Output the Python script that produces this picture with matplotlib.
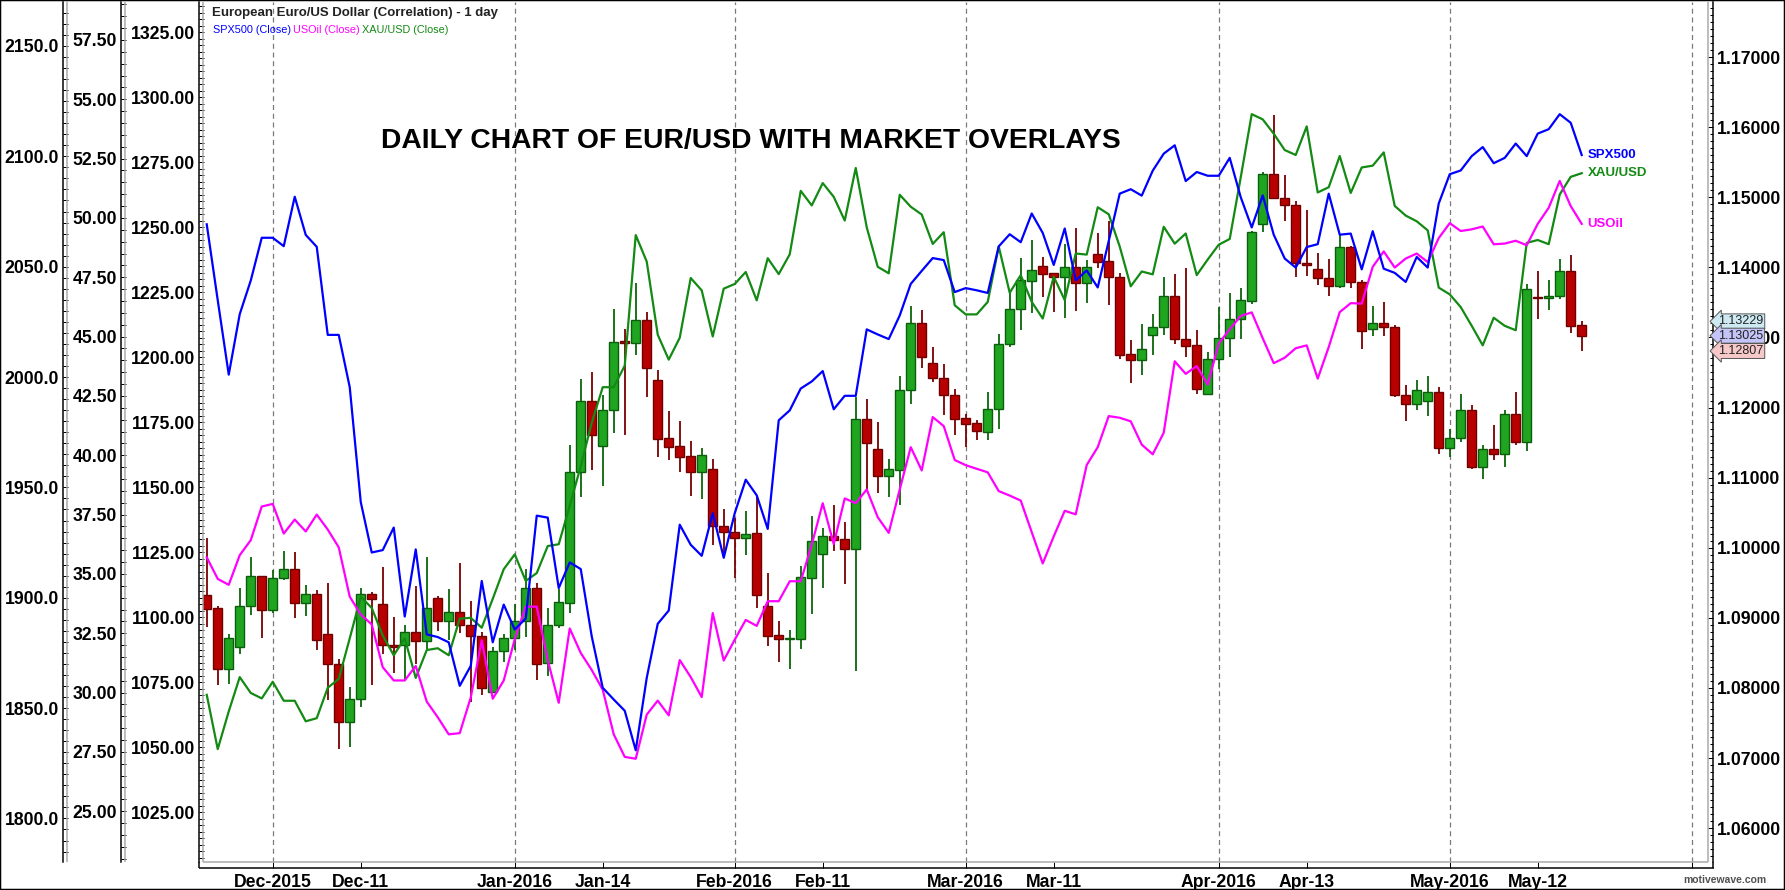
import numpy as np
import pandas as pd
import matplotlib
matplotlib.use("Agg")
import matplotlib.pyplot as plt
from matplotlib.lines import Line2D
from matplotlib.patches import Rectangle
import matplotlib.ticker as mticker
import matplotlib.transforms as mtransforms

plt.rcParams['font.family'] = ['Liberation Sans', 'DejaVu Sans']
plt.rcParams['font.weight'] = 'bold'
plt.rcParams['xtick.labelsize'] = 12.7
plt.rcParams['ytick.labelsize'] = 12.7

# ---------------- data ----------------
start_date = '2015-11-23'
end_date = '2016-06-30'
holidays = ['2015-12-25', '2016-01-01']
n_bars = 126

eur_open = [1.09327, 1.09141, 1.08272, 1.08577, 1.09169, 1.09592,
            1.09118, 1.09564, 1.09694, 1.09214, 1.09338, 1.08763, 1.08340, 1.07510, 1.07843, 1.09338,
            1.09203, 1.08610, 1.08610, 1.08791, 1.08667, 1.09282, 1.08949, 1.09090, 1.08904, 1.08746,
            1.07945, 1.08520, 1.08718, 1.08949, 1.09423, 1.08351, 1.08893, 1.09214, 1.11076, 1.12091,
            1.11454, 1.11961, 1.12943, 1.12926, 1.13247, 1.12390, 1.11566, 1.11454, 1.11310, 1.11084,
            1.11129, 1.10306, 1.10221, 1.10142, 1.10210, 1.09166, 1.08754, 1.08692, 1.08703, 1.09572,
            1.09916, 1.10165, 1.10125, 1.09984, 1.11834, 1.11405, 1.11028, 1.11112, 1.12257, 1.13199,
            1.12642, 1.12428, 1.12183, 1.11852, 1.11776, 1.11648, 1.11974, 1.12901, 1.13401, 1.13808,
            1.14012, 1.13915, 1.13869, 1.14002, 1.13783, 1.14186, 1.14084, 1.13869, 1.12759, 1.12682,
            1.13039, 1.13146, 1.13584, 1.12973, 1.12886, 1.12198, 1.12692, 1.12998, 1.13258, 1.13523,
            1.14613, 1.15327, 1.14990, 1.14883, 1.14058, 1.13971, 1.13844, 1.13727, 1.14287, 1.13788,
            1.13126, 1.13212, 1.13146, 1.12173, 1.12045, 1.12096, 1.12219, 1.11419, 1.11561, 1.11964,
            1.11154, 1.11409, 1.11332, 1.11908, 1.11510, 1.13574, 1.13559, 1.13584, 1.13946, 1.13176]
eur_high = [1.10145, 1.09175, 1.08763, 1.09423, 1.09874, 1.09592,
            1.09682, 1.09947, 1.09936, 1.09468, 1.09395, 1.09496, 1.08407, 1.08018, 1.09423, 1.09366,
            1.09722, 1.09017, 1.08904, 1.09451, 1.09874, 1.09310, 1.09411, 1.09778, 1.09242, 1.08802,
            1.08577, 1.08763, 1.09197, 1.09694, 1.09496, 1.09146, 1.09411, 1.11471, 1.12401, 1.12503,
            1.12176, 1.13405, 1.13123, 1.13783, 1.13360, 1.12531, 1.11950, 1.11803, 1.11524, 1.11423,
            1.11265, 1.10548, 1.10418, 1.10520, 1.10717, 1.09646, 1.08952, 1.08828, 1.09741, 1.10452,
            1.10283, 1.10605, 1.10362, 1.12156, 1.12116, 1.11789, 1.11265, 1.12449, 1.13453, 1.13385,
            1.12861, 1.12616, 1.12260, 1.11903, 1.11827, 1.12219, 1.13049, 1.13635, 1.14135, 1.14389,
            1.14145, 1.13915, 1.14333, 1.14562, 1.14104, 1.14491, 1.14654, 1.13926, 1.12963, 1.13187,
            1.13329, 1.13859, 1.13905, 1.13997, 1.13105, 1.12799, 1.13436, 1.13635, 1.13706, 1.14520,
            1.15367, 1.16172, 1.15316, 1.14950, 1.14812, 1.14211, 1.14119, 1.14466, 1.14302, 1.13813,
            1.13447, 1.13503, 1.13182, 1.12321, 1.12392, 1.12453, 1.12290, 1.11699, 1.12198, 1.12035,
            1.11470, 1.11750, 1.11969, 1.12224, 1.13762, 1.13946, 1.13818, 1.14119, 1.14175, 1.13229]
eur_low = [1.08876, 1.08046, 1.08058, 1.08481, 1.09045, 1.08718,
           1.09073, 1.09541, 1.09000, 1.09028, 1.08537, 1.07832, 1.07127, 1.07155, 1.07730, 1.08046,
           1.08481, 1.08216, 1.08114, 1.08340, 1.08554, 1.08819, 1.08678, 1.08780, 1.07804, 1.07900,
           1.07934, 1.08368, 1.08537, 1.08723, 1.08114, 1.08170, 1.08859, 1.09073, 1.10720, 1.11104,
           1.10878, 1.11640, 1.11611, 1.12751, 1.12147, 1.11301, 1.11256, 1.11076, 1.10735, 1.10689,
           1.10040, 1.09899, 1.09572, 1.09899, 1.09138, 1.08602, 1.08365, 1.08275, 1.08557, 1.09053,
           1.09420, 1.09956, 1.09477, 1.08236, 1.10830, 1.10785, 1.10729, 1.10605, 1.12054, 1.12562,
           1.12361, 1.11893, 1.11607, 1.11444, 1.11536, 1.11536, 1.11699, 1.12861, 1.13110, 1.13350,
           1.13579, 1.13360, 1.13279, 1.13375, 1.13493, 1.13992, 1.13462, 1.12698, 1.12351, 1.12463,
           1.12748, 1.13034, 1.12912, 1.12718, 1.12188, 1.12188, 1.12555, 1.12723, 1.12973, 1.13482,
           1.14501, 1.14970, 1.14664, 1.13869, 1.13880, 1.13752, 1.13594, 1.13701, 1.13711, 1.12840,
           1.13024, 1.13024, 1.12147, 1.11811, 1.11969, 1.11882, 1.11342, 1.11296, 1.11510, 1.11118,
           1.10986, 1.11245, 1.11154, 1.11470, 1.11383, 1.13268, 1.13396, 1.13548, 1.13064, 1.12807]
eur_close = [1.09129, 1.08272, 1.08706, 1.09169, 1.09592, 1.09118,
             1.09564, 1.09694, 1.09214, 1.09338, 1.08678, 1.08340, 1.07510, 1.07843, 1.09338, 1.09270,
             1.08610, 1.08588, 1.08791, 1.08667, 1.09141, 1.08949, 1.09090, 1.08904, 1.08746, 1.08001,
             1.08520, 1.08718, 1.08949, 1.09423, 1.08340, 1.08893, 1.09225, 1.11076, 1.12091, 1.11611,
             1.11961, 1.12937, 1.12926, 1.13247, 1.12559, 1.11555, 1.11442, 1.11301, 1.11084, 1.11321,
             1.10306, 1.10221, 1.10142, 1.10198, 1.09324, 1.08743, 1.08703, 1.08715, 1.09578, 1.10097,
             1.10165, 1.10114, 1.09984, 1.11834, 1.11490, 1.11028, 1.11124, 1.12257, 1.13199, 1.12720,
             1.12428, 1.12183, 1.11842, 1.11771, 1.11669, 1.11974, 1.12901, 1.13401, 1.13819, 1.13956,
             1.13910, 1.13864, 1.14002, 1.13783, 1.14002, 1.14078, 1.13869, 1.12754, 1.12682, 1.12830,
             1.13146, 1.13584, 1.12973, 1.12881, 1.12259, 1.12692, 1.12998, 1.13258, 1.13528, 1.14511,
             1.15327, 1.14985, 1.14883, 1.14058, 1.14038, 1.13844, 1.13727, 1.14287, 1.13788, 1.13095,
             1.13212, 1.13146, 1.12173, 1.12045, 1.12249, 1.12219, 1.11419, 1.11566, 1.11964, 1.11154,
             1.11409, 1.11332, 1.11908, 1.11510, 1.13691, 1.13559, 1.13589, 1.13946, 1.13166, 1.13025]

spx_close = [2069.2, 2034.8, 2001.1, 2028.5, 2043.7, 2063.1,
             2063.1, 2059.3, 2081.7, 2064.4, 2059.0, 2019.1, 2019.1, 1995.4, 1943.4, 1920.5,
             1921.6, 1931.8, 1891.5, 1921.9, 1883.4, 1882.2, 1879.8, 1860.1, 1869.1, 1907.6,
             1879.8, 1896.9, 1885.6, 1890.6, 1937.2, 1936.3, 1904.4, 1916.0, 1913.0, 1882.5,
             1859.2, 1853.9, 1848.8, 1830.9, 1863.7, 1888.2, 1894.2, 1933.1, 1924.0, 1919.0,
             1938.3, 1918.1, 1938.3, 1953.5, 1946.4, 1931.2, 1980.4, 1984.9, 1994.8, 1998.0,
             2002.7, 1985.4, 1991.5, 1991.5, 2021.6, 2019.3, 2017.2, 2027.9, 2042.2, 2048.1,
             2053.9, 2053.0, 2038.5, 2040.3, 2039.3, 2038.1, 2059.2, 2064.7, 2061.1, 2074.1,
             2065.3, 2050.8, 2067.3, 2043.8, 2048.3, 2040.6, 2061.6, 2083.1, 2085.1, 2082.2,
             2093.5, 2101.2, 2105.0, 2088.8, 2092.9, 2091.2, 2091.2, 2099.3, 2081.5, 2067.8,
             2082.3, 2064.5, 2053.7, 2049.6, 2058.9, 2060.2, 2083.1, 2064.5, 2065.0, 2048.8,
             2066.1, 2049.1, 2047.2, 2043.1, 2054.4, 2049.6, 2078.6, 2091.9, 2093.6, 2100.1,
             2104.2, 2096.9, 2099.3, 2105.8, 2100.1, 2110.3, 2112.3, 2119.1, 2115.2, 2100.6]
usoil_close = [35.70, 34.79, 34.54, 35.79, 36.42, 37.84,
               37.95, 36.70, 37.29, 36.79, 37.50, 36.87, 36.12, 34.04, 33.29, 32.87,
               31.07, 30.51, 30.51, 31.12, 29.62, 28.96, 28.24, 28.29, 29.79, 32.20,
               29.74, 30.51, 32.25, 33.62, 33.62, 31.37, 29.57, 32.70, 31.67, 30.95,
               30.12, 28.24, 27.29, 27.21, 29.07, 29.66, 29.04, 31.37, 30.65, 29.81,
               33.35, 31.35, 32.23, 33.06, 32.81, 33.85, 33.85, 34.69, 34.69, 36.23,
               37.98, 36.26, 38.18, 37.98, 38.56, 37.39, 36.73, 38.56, 40.34, 39.36,
               41.61, 41.23, 39.80, 39.58, 39.43, 39.28, 38.49, 38.30, 38.09, 36.76,
               35.44, 36.58, 37.66, 37.51, 39.59, 40.34, 41.65, 41.58, 41.43, 40.45,
               40.04, 40.95, 43.96, 43.43, 43.76, 42.98, 44.71, 45.31, 45.87, 46.02,
               44.93, 43.88, 44.11, 44.51, 44.63, 43.23, 44.56, 46.03, 46.41, 46.39,
               47.94, 48.59, 47.91, 48.29, 48.50, 48.14, 49.15, 49.78, 49.45, 49.52,
               49.64, 48.89, 48.92, 49.04, 48.85, 49.75, 50.43, 51.56, 50.50, 49.75]
xau_close = [1070.1, 1049.2, 1063.7, 1076.9, 1070.8, 1068.7,
             1075.1, 1067.8, 1067.8, 1059.9, 1061.1, 1072.8, 1076.2, 1091.8, 1107.8, 1103.5,
             1092.9, 1085.3, 1091.8, 1076.6, 1087.3, 1088.0, 1085.3, 1099.4, 1099.7, 1095.9,
             1107.0, 1118.4, 1124.1, 1113.9, 1116.9, 1127.3, 1128.0, 1142.8, 1158.0, 1174.7,
             1188.4, 1188.4, 1196.7, 1246.9, 1236.7, 1208.6, 1199.0, 1207.4, 1230.4, 1225.6,
             1207.9, 1226.3, 1228.1, 1232.7, 1221.8, 1238.0, 1231.9, 1239.5, 1263.9, 1258.3,
             1266.9, 1261.6, 1252.5, 1272.7, 1249.9, 1234.7, 1232.2, 1262.4, 1257.8, 1254.8,
             1243.5, 1248.0, 1219.9, 1216.4, 1216.4, 1221.2, 1242.5, 1224.7, 1231.5, 1221.2,
             1214.8, 1230.9, 1221.9, 1239.8, 1239.4, 1257.6, 1254.9, 1242.5, 1227.2, 1232.9,
             1231.8, 1250.1, 1243.6, 1247.5, 1231.5, 1237.5, 1243.2, 1245.4, 1269.1, 1293.4,
             1291.4, 1285.9, 1279.6, 1277.7, 1288.7, 1263.3, 1265.3, 1277.3, 1263.1, 1272.9,
             1273.6, 1278.7, 1258.1, 1254.4, 1252.2, 1248.7, 1226.7, 1224.1, 1219.2, 1212.0,
             1204.5, 1215.1, 1212.0, 1210.3, 1243.9, 1245.0, 1243.4, 1262.5, 1269.3, 1270.7]

month_dates = ['2015-12-01', '2016-01-04', '2016-02-01', '2016-03-01', '2016-04-01', '2016-05-02', '2016-06-01']
month_labels = ['Dec-2015', 'Jan-2016', 'Feb-2016', 'Mar-2016', 'Apr-2016', 'May-2016', '']
mid_dates = ['2015-12-11', '2016-01-14', '2016-02-11', '2016-03-11', '2016-04-13', '2016-05-12']
mid_labels = ['Dec-11', 'Jan-14', 'Feb-11', 'Mar-11', 'Apr-13', 'May-12']

series_names = ['SPX500', 'USOil', 'XAU/USD']
series_colors = ['#0000ff', '#ff00ff', '#138a13']
price_tags = [1.13229, 1.13025, 1.12807]
price_tag_colors = ['#cdeaf2', '#c4c4f8', '#f7c8c8']

# ---------------- calendar ----------------
days = pd.bdate_range(start_date, end_date)
days = days[~days.isin(pd.to_datetime(holidays))]
pos_of = {d.strftime('%Y-%m-%d'): i for i, d in enumerate(days)}
x = np.arange(n_bars)

# ---------------- figure / layout ----------------
W, H = 1785, 890
fig = plt.figure(figsize=(W / 100, H / 100), dpi=100)
fig.patch.set_facecolor('white')


def fx(p):
    return p / W


def fy(p):
    return 1 - p / H


L, R, T, B = 203, 1708, 2, 862
ax = fig.add_axes([fx(L), fy(B), fx(R) - fx(L), fy(T) - fy(B)])
ax_gold = ax.twinx()
ax_oil = ax.twinx()
ax_spx = ax.twinx()

ax.set_xlim(-0.34, 136.48)
ax.set_ylim(1.05517, 1.17785)

PT = 72 / 100.0  # points per pixel
axw = R - L

# main (EUR) axis on the right
ax.yaxis.tick_right()
for s in ['left', 'top', 'bottom']:
    ax.spines[s].set_visible(False)
ax.spines['right'].set_position(('axes', 1 + 5 / axw))
ax.spines['right'].set_linewidth(1.5 * PT)
ax.yaxis.set_major_locator(mticker.MultipleLocator(0.01))
ax.yaxis.set_minor_locator(mticker.MultipleLocator(0.001))
ax.yaxis.set_major_formatter(mticker.FormatStrFormatter('%.5f'))
ax.tick_params(axis='y', which='major', direction='in', length=5 * PT, width=1 * PT, pad=4 * PT)
ax.tick_params(axis='y', which='minor', direction='in', length=3 * PT, width=1 * PT)

# bottom date axis
ax.spines['bottom'].set_position(('axes', -6 / (B - T)))
tick_pos = [pos_of[d] for d in month_dates] + [pos_of[d] for d in mid_dates]
tick_lab = month_labels + mid_labels
ax.set_xticks(tick_pos)
ax.set_xticklabels(tick_lab)
ax.tick_params(axis='x', which='major', direction='in', length=6 * PT, width=1 * PT, pad=6 * PT)

# left axes
left_cfg = [
    (ax_gold, (1005.79, 1336.54), 25, 2.5, '%.2f', 199),
    (ax_oil, (22.86, 59.10), 2.5, 0.5, '%.2f', 121),
    (ax_spx, (1780.27, 2169.93), 50, 5, '%.1f', 63),
]
for a, ylim, maj, mnr, fmt, spx_px in left_cfg:
    a.set_ylim(*ylim)
    a.yaxis.tick_left()
    a.yaxis.set_label_position('left')
    for s in ['right', 'top', 'bottom']:
        a.spines[s].set_visible(False)
    a.spines['left'].set_visible(True)
    a.spines['left'].set_position(('axes', (spx_px - L) / axw))
    a.spines['left'].set_linewidth(1.5 * PT)
    a.yaxis.set_major_locator(mticker.MultipleLocator(maj))
    a.yaxis.set_minor_locator(mticker.MultipleLocator(mnr))
    a.yaxis.set_major_formatter(mticker.FormatStrFormatter(fmt))
    a.tick_params(axis='y', which='major', direction='in', length=4.5 * PT, width=1 * PT, pad=4 * PT)
    a.tick_params(axis='y', which='minor', direction='in', length=4.5 * PT, width=1 * PT)

# ---------------- month lines ----------------
for d in month_dates:
    ax.axvline(pos_of[d], color='#7a7a7a', lw=0.9, ls=(0, (4, 3)), zorder=1)

# ---------------- candles ----------------
o = np.array(eur_open)
h = np.array(eur_high)
l = np.array(eur_low)
c = np.array(eur_close)
up = c >= o
body_col = np.where(up, '#1fa51f', '#b80000')
edge_col = np.where(up, '#0b5e0b', '#6e0000')
wick_col = np.where(up, '#0b660b', '#780000')
ax.vlines(x, l, h, colors=wick_col, lw=1.3, zorder=2)
ax.bar(x, np.maximum(np.abs(c - o), 0.00002), bottom=np.minimum(o, c), width=0.78,
       color=body_col, edgecolor=edge_col, linewidth=1.0, zorder=3)

# ---------------- overlay lines ----------------
ax_spx.plot(x, spx_close, color=series_colors[0], lw=1.6, zorder=4)
ax_oil.plot(x, usoil_close, color=series_colors[1], lw=1.6, zorder=4)
ax_gold.plot(x, xau_close, color=series_colors[2], lw=1.6, zorder=4)

for a, vals, name, col in [(ax_spx, spx_close, series_names[0], series_colors[0]),
                           (ax_gold, xau_close, series_names[2], series_colors[2]),
                           (ax_oil, usoil_close, series_names[1], series_colors[1])]:
    a.annotate(name, xy=(x[-1], vals[-1]), xytext=(6 * PT, 0), textcoords='offset points',
               ha='left', va='center', color=col, fontsize=9.5, fontweight='bold',
               annotation_clip=False)

# ---------------- price tags ----------------
blend = mtransforms.blended_transform_factory(ax.transAxes, ax.transData)
for v, fc in zip(price_tags, price_tag_colors):
    ax.text(1 + 10 / axw, v, '%.5f' % v, transform=blend, ha='left', va='center',
            fontsize=9, fontweight='normal', color='#222222', zorder=10,
            bbox=dict(boxstyle='larrow,pad=0.12', fc=fc, ec='#555555', lw=0.7))

# ---------------- frame lines ----------------
gray = '#a9a9a9'
def pline(x0, y0, x1, y1, color, lw):
    fig.add_artist(Line2D([fx(x0), fx(x1)], [fy(y0), fy(y1)], transform=fig.transFigure,
                          color=color, lw=lw * PT, solid_capstyle='butt'))

pline(67, T, 67, B, gray, 1.5)
pline(125, T, 125, B, gray, 1.5)
pline(L, T, L, B, gray, 1.5)
pline(R, T, R, B, gray, 1.5)
pline(L, B, R, B, gray, 1.5)
pline(199, 868, 1713.5, 868, 'black', 1.5)
pline(199, B, 199, 868, 'black', 1.5)
pline(1713, B, 1713, 868, 'black', 1.5)
fig.add_artist(Rectangle((0, 0), 1, 1, transform=fig.transFigure, fill=False,
                         edgecolor='black', lw=2.5 * PT))

# ---------------- texts ----------------
fig.text(fx(212), fy(13), 'European Euro/US Dollar (Correlation) - 1 day', ha='left', va='center',
         fontsize=9.5, fontweight='bold', color='#222222')
for xp, txt, col in [(213, 'SPX500 (Close)', series_colors[0]),
                     (293, 'USOil (Close)', series_colors[1]),
                     (362, 'XAU/USD (Close)', series_colors[2])]:
    fig.text(fx(xp), fy(30), txt, ha='left', va='center', fontsize=7.8, fontweight='normal', color=col)

fig.text(fx(751), fy(141), 'DAILY CHART OF EUR/USD WITH MARKET OVERLAYS', ha='center', va='center',
         fontsize=20.3, fontweight='bold', color='black')
fig.text(fx(1766), fy(880), 'motivewave.com', ha='right', va='center', fontsize=7.5,
         fontweight='bold', color='#505050')

fig.savefig('out.png', dpi=100)
